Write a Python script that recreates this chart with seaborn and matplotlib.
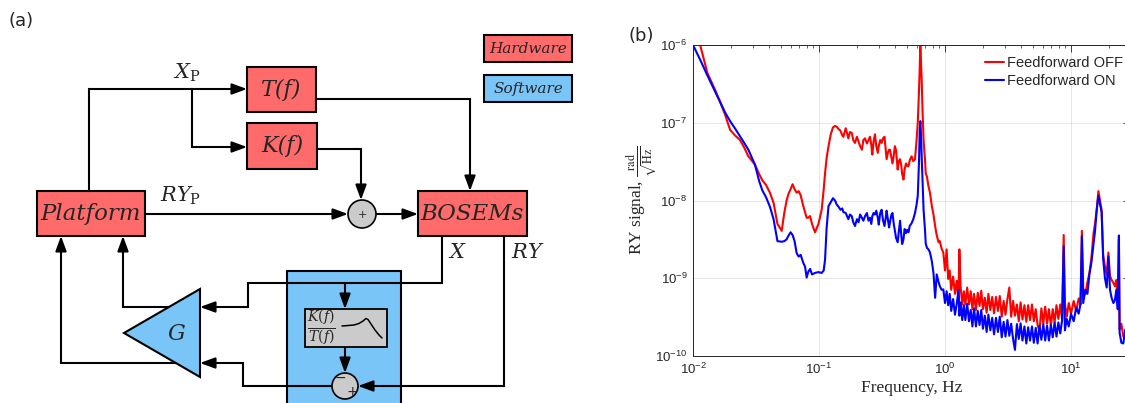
import matplotlib
matplotlib.use('Agg')
import numpy as np
import pandas as pd
import matplotlib.pyplot as plt
import seaborn as sns
from matplotlib.patches import Rectangle, Circle, Polygon
from matplotlib.ticker import LogLocator, NullFormatter

# ---------------- data (panel b) ----------------
freq_hz = [
    0.0100, 0.0114, 0.0130, 0.0150, 0.0165, 0.0180, 0.0197, 0.0215, 0.0236, 0.0255,
    0.0275, 0.0310, 0.0335, 0.0355, 0.0380, 0.0408, 0.0436, 0.0468, 0.0506, 0.0530,
    0.0553, 0.0571, 0.0595, 0.0617, 0.0640, 0.0665, 0.0690, 0.0715, 0.0750, 0.0775,
    0.0798, 0.0820, 0.0850, 0.0880, 0.0930, 0.0990, 0.1050, 0.1090, 0.1117, 0.1150,
    0.1190, 0.1240, 0.1290, 0.1340, 0.1380, 0.1430, 0.1480, 0.1530, 0.1560, 0.1630,
    0.1710, 0.1760, 0.1820, 0.1870, 0.1930, 0.2000, 0.2060, 0.2120, 0.2190, 0.2250,
    0.2320, 0.2400, 0.2470, 0.2540, 0.2600, 0.2650, 0.2710, 0.2780, 0.2850, 0.2930,
    0.2980, 0.3060, 0.3140, 0.3220, 0.3310, 0.3400, 0.3440, 0.3530, 0.3600, 0.3660,
    0.3760, 0.3830, 0.3920, 0.4000, 0.4090, 0.4210, 0.4300, 0.4400, 0.4500, 0.4570,
    0.4680, 0.4780, 0.4900, 0.5010, 0.5130, 0.5250, 0.5430, 0.5600, 0.5780, 0.5950,
    0.6080, 0.6220, 0.6300, 0.6370, 0.6450, 0.6530, 0.6650, 0.6760, 0.6950, 0.7030,
    0.7200, 0.7400, 0.7600, 0.7860, 0.8100, 0.8350, 0.8600, 0.8900, 0.9100, 0.9400,
    0.9700, 1.0000, 1.0300, 1.0600, 1.0900, 1.1200, 1.1600, 1.2000, 1.2400, 1.2800,
    1.3000, 1.3300, 1.3700, 1.4100, 1.4500, 1.5000, 1.5500, 1.6000, 1.6500, 1.7000,
    1.7600, 1.8200, 1.8800, 1.9400, 2.0000, 2.0700, 2.1400, 2.2100, 2.2900, 2.3700,
    2.4500, 2.5400, 2.6300, 2.7200, 2.8200, 2.9200, 3.0200, 3.1300, 3.2400, 3.3500,
    3.4700, 3.5900, 3.7200, 3.8500, 3.9800, 4.1200, 4.2700, 4.4200, 4.5700, 4.7300,
    4.9000, 5.0700, 5.2500, 5.4300, 5.6200, 5.8200, 6.0300, 6.2400, 6.4600, 6.6800,
    6.9200, 7.1600, 7.4100, 7.6700, 7.9400, 8.2200, 8.5000, 8.7500, 8.9500, 9.2500,
    9.6000, 10.000, 10.500, 11.000, 11.500, 11.900, 12.200, 12.500, 13.000, 13.500,
    14.000, 14.500, 15.100, 15.500, 16.000, 16.500, 17.000, 17.500, 18.000, 18.600,
    19.200, 19.800, 20.400, 21.000, 21.700, 22.300, 22.900, 23.500, 24.000, 24.300,
    25.100, 26.000, 27.000,
]

# RY amplitude spectral density, in nrad/sqrt(Hz)
ry_off_nrad = [
    1180, 1000, 437, 263, 182, 126, 81, 69, 60, 48,
    37, 29, 21.9, 18.2, 15.8, 12.6, 9.3, 5.0, 4.07, 6.9,
    10, 12, 14, 16.2, 14, 12.6, 13.2, 11.7, 8.5, 7.1,
    6.0, 6.0, 6.3, 5.0, 3.9, 5.0, 7.6, 14, 22.4, 35.5,
    50, 71, 87, 91, 89, 83, 79, 69, 66, 85,
    63, 76, 74, 60, 55, 66, 57, 50, 45, 60,
    63, 54, 60, 66, 52, 39, 57, 71, 50, 41,
    50, 60, 55, 63, 66, 42, 34, 42, 45, 45,
    35.5, 30, 38, 50, 44, 25, 32, 34, 28, 22,
    18.6, 25, 30, 28, 27.5, 33, 37, 32, 34, 60,
    100, 263, 500, 1050, 630, 355, 126, 60, 32, 22.4,
    20, 15.1, 12.6, 8.5, 6.6, 4.7, 3.55, 2.9, 3.0, 2.4,
    2.14, 1.26, 2.35, 0.98, 1.26, 0.71, 1.05, 0.63, 0.93, 0.52,
    2.35, 0.78, 0.46, 0.68, 0.46, 0.76, 0.46, 0.68, 0.40, 0.63,
    0.39, 0.65, 0.44, 0.69, 0.40, 0.56, 0.36, 0.63, 0.39, 0.575,
    0.355, 0.575, 0.38, 0.59, 0.32, 0.51, 0.34, 0.54, 0.76, 0.32,
    0.51, 0.33, 0.46, 0.28, 0.49, 0.295, 0.45, 0.275, 0.45, 0.29,
    0.46, 0.28, 0.40, 0.25, 0.21, 0.41, 0.26, 0.43, 0.26, 0.40,
    0.245, 0.40, 0.27, 0.45, 0.30, 0.46, 0.30, 3.6, 0.47, 0.32,
    0.48, 0.35, 0.51, 0.38, 0.55, 0.46, 4.07, 0.74, 0.62, 0.89,
    1.17, 1.78, 3.8, 5.0, 7.6, 13.2, 10, 7.6, 2.0, 1.41,
    1.12, 2.14, 1.07, 0.95, 0.87, 0.79, 0.95, 0.50, 3.16, 0.22,
    0.26, 0.178, 0.178,
]

ry_on_nrad = [
    1000, 646, 407, 251, 182, 135, 105, 85, 67, 55,
    45, 29, 17.8, 13.5, 11, 8.3, 5.75, 3.0, 2.95, 3.0,
    3.16, 3.5, 3.9, 3.6, 3.0, 2.1, 1.9, 2.0, 1.58, 1.41,
    1.02, 1.2, 1.32, 1.12, 1.17, 1.2, 1.17, 1.26, 1.74, 4.5,
    8.5, 9.5, 10.7, 10, 8.9, 8.3, 7.6, 7.9, 7.1, 6.9,
    5.75, 6.6, 6.3, 5.25, 4.7, 5.75, 5.25, 6.6, 6.0, 5.5,
    6.3, 6.9, 5.5, 6.0, 5.0, 6.3, 6.9, 6.6, 7.4, 6.0,
    4.9, 6.9, 7.6, 5.6, 4.7, 6.3, 7.4, 5.6, 4.5, 5.25,
    6.6, 6.9, 5.0, 4.1, 3.3, 2.9, 4.0, 5.5, 3.55, 2.75,
    3.16, 4.3, 3.8, 4.2, 3.9, 4.7, 5.1, 5.75, 6.9, 8.9,
    11.5, 32, 79, 105, 71, 37, 15.8, 7.6, 4.0, 2.8,
    2.45, 2.35, 2.14, 1.66, 1.17, 0.56, 1.12, 0.89, 0.79, 0.71,
    0.72, 0.48, 0.68, 0.45, 0.63, 0.38, 0.54, 0.34, 0.47, 0.71,
    0.33, 0.49, 0.29, 0.45, 0.29, 0.47, 0.28, 0.39, 0.24, 0.41,
    0.24, 0.38, 0.25, 0.39, 0.224, 0.33, 0.204, 0.34, 0.214, 0.31,
    0.19, 0.31, 0.204, 0.32, 0.174, 0.275, 0.178, 0.29, 0.182, 0.26,
    0.166, 0.12, 0.257, 0.166, 0.263, 0.158, 0.24, 0.145, 0.234, 0.158,
    0.24, 0.148, 0.23, 0.145, 0.245, 0.162, 0.257, 0.158, 0.245, 0.158,
    0.25, 0.174, 0.27, 0.178, 0.27, 0.195, 0.29, 2.57, 0.214, 0.30,
    0.24, 0.35, 0.28, 0.42, 0.35, 0.47, 3.47, 0.48, 0.71, 0.63,
    1.12, 1.58, 2.8, 4.0, 7.6, 11.5, 8.9, 7.1, 1.78, 1.0,
    0.76, 1.9, 0.71, 0.56, 0.48, 0.52, 0.71, 0.40, 3.55, 0.20,
    0.148, 0.145, 0.22,
]

series_labels = ['Feedforward OFF', 'Feedforward ON']
series_colors = ['#ff0000', '#0000ff']
x_ticks = [0.01, 0.1, 1, 10]
x_tick_labels = [r'$10^{-2}$', r'$10^{-1}$', r'$10^{0}$', r'$10^{1}$']
y_ticks = [1e-10, 1e-9, 1e-8, 1e-7, 1e-6]
y_tick_labels = [r'$10^{-10}$', r'$10^{-9}$', r'$10^{-8}$', r'$10^{-7}$', r'$10^{-6}$']

# ---------------- style ----------------
sns.set_style('white')
plt.rcParams['font.family'] = ['Liberation Sans', 'DejaVu Sans']
plt.rcParams['mathtext.fontset'] = 'custom'
plt.rcParams['mathtext.rm'] = 'Liberation Sans'
plt.rcParams['mathtext.it'] = 'Liberation Sans:italic'
plt.rcParams['mathtext.bf'] = 'Liberation Sans:bold'

W, H = 1125, 403
fig = plt.figure(figsize=(W / 100, H / 100), dpi=100)

# ---------------- panel (a): block diagram, pixel coordinates ----------------
axd = fig.add_axes([0, 0, 1, 1])
axd.set_xlim(0, W)
axd.set_ylim(H, 0)
axd.axis('off')

RED = '#ff6b6b'
BLUE = '#79c5f8'
GRAY = '#cbcbcb'
LW = 1.5
SERIF = 'DejaVu Serif'


def box(x0, y0, x1, y1, fc, z=2, lw=LW):
    axd.add_patch(Rectangle((x0, y0), x1 - x0, y1 - y0, fc=fc, ec='black',
                            lw=lw, zorder=z))


def wire(pts):
    xs = [p[0] for p in pts]
    ys = [p[1] for p in pts]
    axd.plot(xs[:-1], ys[:-1], color='black', lw=LW, zorder=3,
             solid_joinstyle='miter', solid_capstyle='projecting')
    axd.annotate('', xy=pts[-1], xytext=pts[-2],
                 arrowprops=dict(arrowstyle='-|>,head_length=0.9,head_width=0.33',
                                 color='black', lw=LW, shrinkA=0, shrinkB=0,
                                 mutation_scale=10), zorder=3)


# software region (behind)
box(287, 271, 401, 420, BLUE, z=1)

# blocks
box(247, 67, 316, 112, RED)
box(247, 123, 317, 169, RED)
box(37, 191, 145, 236, RED)
box(418, 191, 527, 236, RED)
box(484, 35, 572, 62, RED)
box(484, 75, 572, 102, BLUE)
box(305, 309, 387, 347, GRAY, z=4, lw=1.3)

axd.text(281.5, 90, 'T(f)', ha='center', va='center', fontsize=16,
         fontstyle='italic', family=SERIF, zorder=5)
axd.text(282, 146, 'K(f)', ha='center', va='center', fontsize=16,
         fontstyle='italic', family=SERIF, zorder=5)
axd.text(91, 214, 'Platform', ha='center', va='center', fontsize=16.5,
         fontstyle='italic', family=SERIF, zorder=5)
axd.text(472.5, 214, 'BOSEMs', ha='center', va='center', fontsize=16.5,
         fontstyle='italic', family=SERIF, zorder=5)
axd.text(528, 49, 'Hardware', ha='center', va='center', fontsize=11,
         fontstyle='italic', family=SERIF, zorder=5)
axd.text(528, 89, 'Software', ha='center', va='center', fontsize=11,
         fontstyle='italic', family=SERIF, zorder=5)

# wires
wire([(89, 191), (89, 89), (247, 89)])
wire([(192, 89), (192, 147), (247, 147)])
wire([(316, 99), (470, 99), (470, 191)])
wire([(317, 149), (361, 149), (361, 200)])
wire([(145, 214), (348, 214)])
wire([(376, 214), (418, 214)])
wire([(442, 236), (442, 283), (248, 283), (248, 307), (200, 307)])
wire([(345, 283), (345, 309)])
wire([(504, 236), (504, 386), (358, 386)])
wire([(345, 347), (345, 373)])
wire([(332, 386), (243, 386), (243, 363), (200, 363)])
wire([(185, 307), (123, 307), (123, 236)])
wire([(185, 363), (61, 363), (61, 236)])

# gain triangle
axd.add_patch(Polygon([(124, 333), (200, 289), (200, 377)], closed=True,
                      fc=BLUE, ec='black', lw=LW, zorder=4, joinstyle='miter'))
axd.text(176, 334, 'G', ha='center', va='center', fontsize=16,
         fontstyle='italic', family=SERIF, zorder=5)

# summing junctions
axd.add_patch(Circle((362, 214), 14, fc=GRAY, ec='black', lw=1.2, zorder=4))
axd.text(362, 215, '+', ha='center', va='center', fontsize=8, family='DejaVu Sans',
         zorder=5)
axd.add_patch(Circle((345, 386), 13, fc=GRAY, ec='black', lw=1.2, zorder=4))
axd.text(340, 378, '\u2212', ha='center', va='center', fontsize=10,
         family='DejaVu Sans', zorder=5)
axd.text(352, 392, '+', ha='center', va='center', fontsize=10,
         family='DejaVu Sans', zorder=5)

# filter box contents
axd.text(321, 328, r'$\frac{K(f)}{T(f)}$', ha='center', va='center', fontsize=14.5,
         math_fontfamily='dejavuserif', zorder=5)
tf_curve_x = [342, 348, 354, 359, 363, 366, 368, 371, 375, 379, 382]
tf_curve_y = [326, 325.5, 325, 323.5, 321, 318.5, 319.5, 324, 330, 335, 338]
axd.plot(tf_curve_x, tf_curve_y, color='black', lw=1.1, zorder=5)

# signal labels
axd.text(187, 73, r'$X_{\mathrm{P}}$', ha='center', va='center', fontsize=15,
         math_fontfamily='dejavuserif')
axd.text(181, 196, r'$RY_{\mathrm{P}}$', ha='center', va='center', fontsize=15,
         math_fontfamily='dejavuserif')
axd.text(448, 253, r'$X$', ha='left', va='center', fontsize=15,
         math_fontfamily='dejavuserif')
axd.text(511, 253, r'$RY$', ha='left', va='center', fontsize=15,
         math_fontfamily='dejavuserif')

# panel letters
axd.text(8, 21, '(a)', ha='left', va='center', fontsize=13, family='DejaVu Sans')
axd.text(628, 36, '(b)', ha='left', va='center', fontsize=13, family='DejaVu Sans')

# ---------------- panel (b): spectra ----------------
x_left, x_right, y_top, y_bot = 693, 1130, 45, 356
axs = fig.add_axes([x_left / W, 1 - y_bot / H, (x_right - x_left) / W,
                    (y_bot - y_top) / H])
axs.set_xscale('log')
axs.set_yscale('log')

df = pd.DataFrame({
    'Frequency': freq_hz + freq_hz,
    'RY': [v * 1e-9 for v in ry_off_nrad] + [v * 1e-9 for v in ry_on_nrad],
    'series': [series_labels[0]] * len(freq_hz) + [series_labels[1]] * len(freq_hz),
})
sns.lineplot(data=df, x='Frequency', y='RY', hue='series', hue_order=series_labels,
             palette=series_colors, estimator=None, sort=False, linewidth=1.5,
             ax=axs)

axs.set_xlim(0.01, 10 ** (-2 + (x_right - x_left) / 126.0))
axs.set_ylim(1e-10, 1e-6)

axs.set_xticks(x_ticks)
axs.set_xticklabels(x_tick_labels)
axs.set_yticks(y_ticks)
axs.set_yticklabels(y_tick_labels)
axs.xaxis.set_minor_locator(LogLocator(base=10, subs=np.arange(2, 10), numticks=100))
axs.yaxis.set_minor_locator(LogLocator(base=10, subs=np.arange(2, 10), numticks=100))
axs.xaxis.set_minor_formatter(NullFormatter())
axs.yaxis.set_minor_formatter(NullFormatter())

DARK = '#262626'
axs.tick_params(which='both', direction='in', top=True, right=True, color=DARK,
                labelcolor=DARK, labelsize=9.5)
axs.tick_params(which='major', length=5, width=0.6, pad=4)
axs.tick_params(which='minor', length=2.5, width=0.5)
for sp in axs.spines.values():
    sp.set_color(DARK)
    sp.set_linewidth(0.7)
axs.grid(True, which='major', color=DARK, alpha=0.13, lw=0.6)

axs.set_xlabel('Frequency, Hz', family='Liberation Serif', fontsize=12.5,
               color=DARK, labelpad=2)
axs.set_ylabel(r'RY signal, $\frac{\mathrm{rad}}{\sqrt{\mathrm{Hz}}}$',
               family='Liberation Serif', fontsize=12.5, color=DARK,
               math_fontfamily='stix')
axs.yaxis.set_label_coords(659 / W, 1 - 200.5 / H, transform=fig.transFigure)

leg = axs.legend(loc='upper right', bbox_to_anchor=(1123 / W, 1 - 56 / H),
                 bbox_transform=fig.transFigure, frameon=False, fontsize=10.5,
                 handlelength=1.3, handletextpad=0.2, labelspacing=0.3,
                 borderpad=0, borderaxespad=0)
for line in leg.get_lines():
    line.set_linewidth(1.5)

fig.savefig('out.png', dpi=100)
